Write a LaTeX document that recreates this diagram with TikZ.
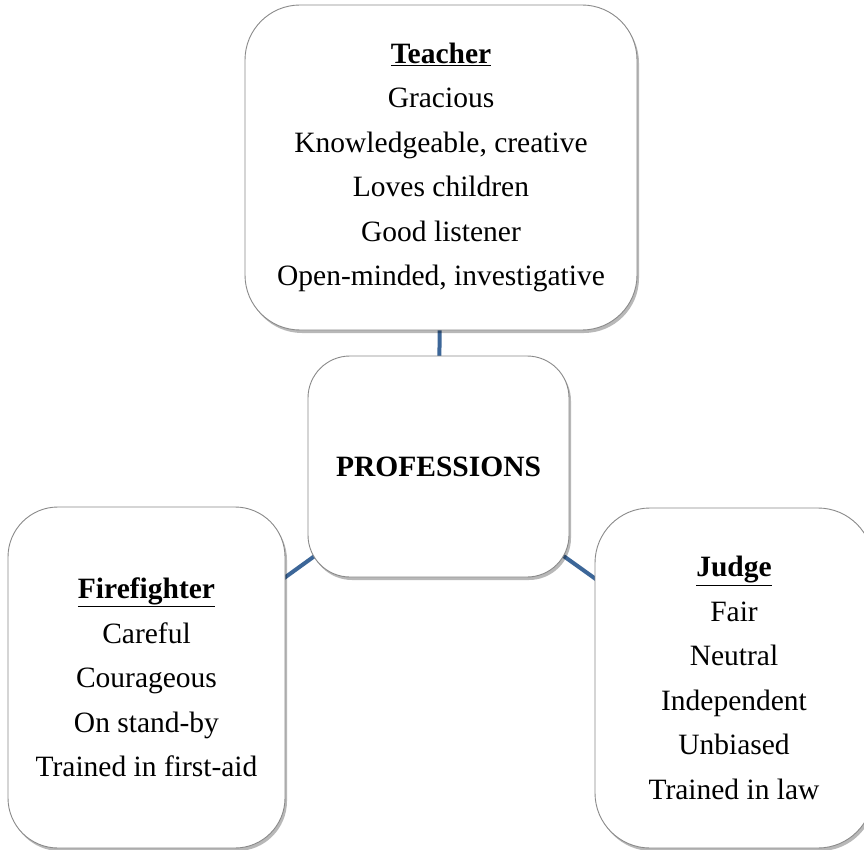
\documentclass[tikz,border=0pt]{standalone}
\usepackage{fontspec}
\setmainfont{Liberation Serif}
\usetikzlibrary{shadows,backgrounds}
\definecolor{linkblue}{HTML}{3C6698}
\definecolor{boxedge}{HTML}{8A8A8A}
\tikzset{
  card/.style={draw=boxedge, line width=0.9pt, fill=white, inner sep=0pt,
    align=center, font={\fontsize{29.5}{44.5}\selectfont},
    drop shadow={shadow xshift=2pt, shadow yshift=-3pt, fill=black, opacity=0.28}},
  link/.style={draw=linkblue, line width=4pt}
}
\begin{document}
\begin{tikzpicture}[x=1pt,y=-1pt]
\clip (0,0) rectangle (864,850);
\node[card, rounded corners=55pt, minimum width=392pt, minimum height=325pt] (teacher) at (441,167.5)
  {\underline{\textbf{Teacher}}\\Gracious\\Knowledgeable, creative\\Loves children\\Good listener\\Open-minded, investigative};
\node[card, rounded corners=42pt, minimum width=261pt, minimum height=221pt] (prof) at (438.5,466.5)
  {\textbf{PROFESSIONS}};
\node[card, rounded corners=50pt, minimum width=277pt, minimum height=341pt] (fire) at (146.5,677.5)
  {\underline{\textbf{Firefighter}}\\Careful\\Courageous\\On stand-by\\Trained in first-aid};
\node[card, rounded corners=55pt, minimum width=278pt, minimum height=340pt] (judge) at (734,678)
  {\underline{\textbf{Judge}}\\Fair\\Neutral\\Independent\\Unbiased\\Trained in law};
\begin{scope}[on background layer]
  \fill[white] (0,0) rectangle (864,850);
  \draw[link] (prof.center) -- (teacher.center);
  \draw[link] (prof.center) -- (fire.center);
  \draw[link] (prof.center) -- (judge.center);
\end{scope}
\end{tikzpicture}
\end{document}
